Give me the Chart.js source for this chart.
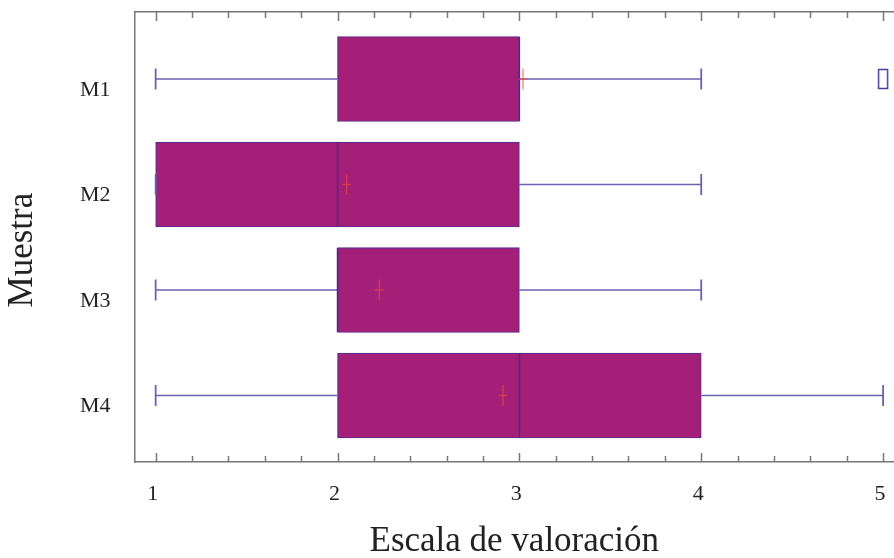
<!DOCTYPE html>
<html lang="es">
<head>
    <meta charset="UTF-8">
    <title>Diagrama de caja - Escala de valoración</title>
    <script src="https://cdn.jsdelivr.net/npm/chart.js"></script>
    <style>
        html, body { margin: 0; padding: 0; background: #fff; overflow: hidden; }
    </style>
</head>
<body>
    <canvas id="boxChart" width="894" height="558"></canvas>

    <script>
        // Datos de cada muestra
        const categories = ['M1', 'M2', 'M3', 'M4'];
        const whiskerLow = [1, 1, 1, 1];
        const q1 = [2, 1, 2, 2];
        const medians = [3, 2, 2, 3];
        const q3 = [3, 3, 3, 4];
        const whiskerHigh = [4, 4, 4, 5];
        const means = [3.02, 2.05, 2.23, 2.91];
        const outliers = [[5], [], [], []];
        const xTickValues = [1, 2, 3, 4, 5];

        const boxColor = '#a31f78';
        const boxBorder = '#5b2c8f';
        const whiskerColor = '#6a60b0';
        const meanColor = 'rgba(236, 75, 60, 0.6)';
        const axisColor = '#777777';

        // Marcador rectangular para los valores atípicos
        const outlierMark = document.createElement('canvas');
        outlierMark.width = 12;
        outlierMark.height = 22;
        const om = outlierMark.getContext('2d');
        om.strokeStyle = '#4b3d96';
        om.lineWidth = 1.5;
        om.strokeRect(1.5, 1.5, 9, 19);

        const pos = (i) => i + 1; // posición de cada muestra en el eje vertical

        const datasets = [];

        // Cajas (Q1 - Q3)
        datasets.push({
            type: 'bar',
            indexAxis: 'y',
            data: categories.map((c, i) => ({ x: [q1[i], q3[i]], y: pos(i) })),
            backgroundColor: boxColor,
            borderColor: boxBorder,
            borderWidth: 1.2,
            borderSkipped: false,
            barThickness: 85,
            order: 10
        });

        // Bigotes
        categories.forEach((c, i) => {
            datasets.push({
                type: 'line',
                data: [{ x: whiskerLow[i], y: pos(i) }, { x: q1[i], y: pos(i) }],
                borderColor: whiskerColor,
                borderWidth: 1.5,
                pointRadius: 0,
                order: 8
            });
            datasets.push({
                type: 'line',
                data: [{ x: q3[i], y: pos(i) }, { x: whiskerHigh[i], y: pos(i) }],
                borderColor: whiskerColor,
                borderWidth: 1.5,
                pointRadius: 0,
                order: 8
            });
        });

        // Extremos de los bigotes
        datasets.push({
            type: 'scatter',
            data: categories.flatMap((c, i) => [
                { x: whiskerLow[i], y: pos(i) },
                { x: whiskerHigh[i], y: pos(i) }
            ]),
            pointStyle: 'line',
            rotation: 90,
            pointRadius: 10.5,
            borderColor: whiskerColor,
            borderWidth: 1.8,
            order: 7
        });

        // Medianas
        datasets.push({
            type: 'scatter',
            data: categories.map((c, i) => ({ x: medians[i], y: pos(i) })),
            pointStyle: 'line',
            rotation: 90,
            pointRadius: 42,
            borderColor: '#55287f',
            borderWidth: 1.5,
            order: 5
        });

        // Medias (cruz)
        datasets.push({
            type: 'scatter',
            data: categories.map((c, i) => ({ x: means[i], y: pos(i) })),
            pointStyle: 'line',
            rotation: 90,
            pointRadius: 10.5,
            borderColor: meanColor,
            borderWidth: 1.5,
            order: 2
        });
        datasets.push({
            type: 'scatter',
            data: categories.map((c, i) => ({ x: means[i], y: pos(i) })),
            pointStyle: 'line',
            pointRadius: 4.5,
            borderColor: meanColor,
            borderWidth: 1.5,
            order: 2
        });

        // Valores atípicos
        datasets.push({
            type: 'scatter',
            data: categories.flatMap((c, i) => outliers[i].map(v => ({ x: v, y: pos(i) }))),
            pointStyle: outlierMark,
            pointRadius: 6,
            order: 1
        });

        // Marcas de graduación hacia dentro (arriba y abajo)
        const innerTicks = {
            id: 'innerTicks',
            afterDraw(chart) {
                const { ctx, chartArea, scales } = chart;
                const xs = scales.x;
                ctx.save();
                ctx.strokeStyle = axisColor;
                ctx.lineWidth = 1.5;
                xs.ticks.forEach(t => {
                    const px = Math.round(xs.getPixelForValue(t.value)) + 0.5;
                    const major = Math.abs(t.value - Math.round(t.value)) < 1e-6;
                    const len = major ? 9 : 6;
                    ctx.beginPath();
                    ctx.moveTo(px, chartArea.bottom);
                    ctx.lineTo(px, chartArea.bottom - len);
                    ctx.moveTo(px, chartArea.top);
                    ctx.lineTo(px, chartArea.top + len);
                    ctx.stroke();
                });
                ctx.restore();
            }
        };

        const serif = "'Liberation Serif', 'DejaVu Serif', serif";

        const ctx = document.getElementById('boxChart').getContext('2d');
        const boxChart = new Chart(ctx, {
            data: { datasets: datasets },
            options: {
                responsive: false,
                maintainAspectRatio: false,
                animation: false,
                layout: { autoPadding: false, padding: { top: 12, right: 0, bottom: 0, left: 0 } },
                plugins: {
                    legend: { display: false },
                    tooltip: { enabled: false }
                },
                scales: {
                    x: {
                        type: 'linear',
                        position: 'bottom',
                        offset: false,
                        min: 0.884,
                        max: 5.06,
                        border: { display: true, color: axisColor, width: 1.5 },
                        // las marcas se dibujan en el plugin; tickLength solo separa las etiquetas
                        grid: { display: false, drawTicks: true, tickLength: 21.6 },
                        ticks: {
                            stepSize: 0.2,
                            includeBounds: false,
                            autoSkip: false,
                            maxRotation: 0,
                            padding: 0,
                            labelOffset: -3,
                            color: '#222',
                            font: { family: serif, size: 22, lineHeight: 1 },
                            callback: (v) => xTickValues.includes(Math.round(v * 1000) / 1000) ? String(Math.round(v)) : ''
                        },
                        title: {
                            display: true,
                            text: 'Escala de valoración',
                            color: '#222',
                            font: { family: serif, size: 35, lineHeight: 0.9 },
                            padding: { top: 20.9, bottom: 0 }
                        }
                    },
                    x2: {
                        type: 'linear',
                        position: 'top',
                        min: 0.884,
                        max: 5.06,
                        border: { display: true, color: axisColor, width: 1.5 },
                        grid: { display: false, drawTicks: false },
                        ticks: { display: false }
                    },
                    y: {
                        type: 'linear',
                        position: 'left',
                        reverse: true,
                        offset: false,
                        min: 0.365,
                        max: 4.63,
                        border: { display: true, color: axisColor, width: 1.5 },
                        grid: { display: false, offset: false, drawTicks: true, tickLength: 24 },
                        ticks: {
                            stepSize: 1,
                            includeBounds: false,
                            autoSkip: false,
                            padding: 0,
                            labelOffset: 11,
                            color: '#222',
                            font: { family: serif, size: 22, lineHeight: 1 },
                            callback: (v) => categories[v - 1] || ''
                        },
                        title: {
                            display: true,
                            // espacios finales para bajar un poco el título, como en el original
                            text: 'Muestra\u00A0\u00A0\u00A0',
                            color: '#222',
                            font: { family: serif, size: 35, lineHeight: 0.9 },
                            padding: { top: 7.5, bottom: 41 }
                        }
                    }
                }
            },
            plugins: [innerTicks]
        });
    </script>
</body>
</html>
